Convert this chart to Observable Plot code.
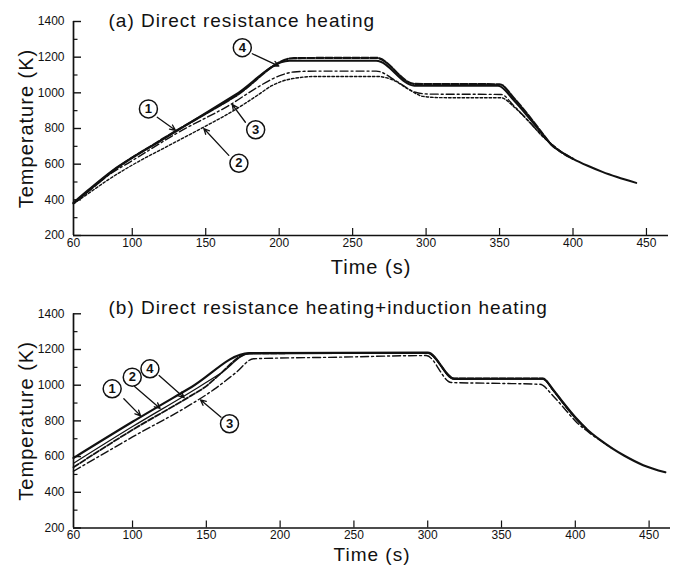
<!DOCTYPE html>
<html><head><meta charset="utf-8">
<script src="https://cdn.jsdelivr.net/npm/d3@7"></script>
<script src="https://cdn.jsdelivr.net/npm/@observablehq/plot@0.6"></script>
<style>
body{margin:0;background:#fff;}
#chart{width:674px;}
#chart svg{display:block;}
</style></head><body><div id="chart"></div>
<script>
// ---- shared axis ticks ----
const timeTicks = [60,100,150,200,250,300,350,400,450];
const tempTicks = [200,400,600,800,1000,1200,1400];
const tempMinorTicks = [300,500,700,900,1100,1300];

// ---- panel (a) Direct resistance heating : [time s, temperature K] ----
const a1 = [[60,385],[70,455],[85,555],[120,735],[170,988],[207,1180],[266,1180],[292,1040],[349,1040],[360,955],[370,860],[378,780],[385,712],[392,668],[400,630],[410,591],[420,557],[430,528],[443,495]];
const a4 = [[60,380],[70,448],[85,550],[120,738],[170,980],[210,1195],[266,1196],[292,1050],[350,1048],[360,968],[370,870],[378,785],[385,712],[392,668],[400,630]];
const a3 = [[60,380],[70,447],[85,545],[100,620],[130,772],[168,940],[185,1030],[200,1095],[210,1117],[225,1122],[266,1122],[280,1065],[292,1005],[302,993],[351,991],[360,925],[370,840],[380,752],[388,695]];
const a2 = [[60,378],[70,435],[85,520],[100,595],[125,705],[148,805],[170,905],[185,985],[195,1040],[208,1078],[226,1092],[266,1092],[278,1070],[288,1020],[298,980],[310,973],[351,972],[360,920],[370,838],[380,750],[388,695]];
const aLabels = [{n:"1",t:111,T:910},{n:"2",t:172.6,T:605},{n:"3",t:184,T:793},{n:"4",t:174.9,T:1253}];
const aArrows = [{t1:117,T1:863,t2:129.4,T2:790},{t1:165.7,T1:649,t2:148.7,T2:800},{t1:177,T1:835,t2:168,T2:935},{t1:181.7,T1:1219,t2:199.8,T2:1150}];

// ---- panel (b) Direct resistance heating + induction heating ----
const b1 = [[60,592],[100,795],[140,990],[179,1180],[300,1183],[318,1036],[378,1036],[385,975],[392,900],[400,820],[408,752],[417,692],[425,646],[433,606],[446,552],[461,512]];
const b2 = [[60,562],[100,768],[140,965],[160,1068],[179,1176],[300,1180],[318,1033],[378,1034],[385,970],[392,895],[400,815],[408,750]];
const b4 = [[60,540],[100,750],[140,943],[150,995],[157,1045],[179,1178],[300,1181],[318,1038],[378,1038],[385,972],[392,898],[400,818],[408,751]];
const b3 = [[60,518],[100,710],[140,895],[155,975],[170,1070],[182,1148],[240,1157],[299,1166],[316,1015],[350,1010],[376,1005],[385,940],[392,875],[400,800],[410,730],[417,690],[425,646]];
const bLabels = [{n:"1",t:86.2,T:980},{n:"2",t:99.8,T:1045},{n:"4",t:111.8,T:1092},{n:"3",t:165.7,T:784}];
const bArrows = [{t1:94.1,T1:924,t2:105.5,T2:828},{t1:101.4,T1:993,t2:118.7,T2:870},{t1:118,T1:1054,t2:135,T2:930},{t1:160,T1:821,t2:146,T2:918}];

const FONT = "'Liberation Sans', Arial, Helvetica, sans-serif";
const rows = pairs => pairs.map(([t,T]) => ({t,T}));

function panel({series, labels, arrows, title, xMax, plotW, height, marginTop, marginBottom, titleDy, timeDy, timeSize, tickPad}) {
  const lineMarks = series.map(s => Plot.line(rows(s.data), {x:"t", y:"T", stroke:"#111", strokeWidth:s.w, strokeDasharray:s.dash, strokeLinejoin:"round", curve:"monotone-x"}));
  return Plot.plot({
    width: 674, height, marginTop, marginBottom, marginLeft: 73, marginRight: 674 - 73 - plotW,
    style: {fontFamily: FONT, fontSize: "12px", background: "white", color: "#111", overflow: "visible"},
    x: {domain: [60, xMax]},
    y: {domain: [200, 1400]},
    marks: [
      Plot.axisY({ticks: tempTicks, tickSize: -8, fill: "none", label: null, strokeWidth: 1.4}),
      Plot.axisY({ticks: tempMinorTicks, tickSize: -4.5, fill: "none", label: null, strokeWidth: 1.2}),
      Plot.axisY({ticks: tempTicks, tickSize: 0, tickPadding: 9, label: null, tickFormat: d => String(d), fontSize: 12}),
      Plot.axisX({ticks: timeTicks.filter(d => d > 60), tickSize: -7, fill: "none", label: null, strokeWidth: 1.2}),
      Plot.axisX({ticks: timeTicks, tickSize: 0, tickPadding: tickPad, label: null, tickFormat: d => String(d), fontSize: 12}),
      Plot.ruleY([200], {strokeWidth: 1.7}),
      Plot.ruleX([60], {strokeWidth: 1.7}),
      ...lineMarks,
      Plot.arrow(arrows, {x1:"t1", y1:"T1", x2:"t2", y2:"T2", headLength: 7, headAngle: 50, strokeWidth: 1.3, stroke: "#111"}),
      Plot.dot(labels, {x:"t", y:"T", r: 9, fill: "white", stroke: "#111", strokeWidth: 1.5}),
      Plot.text(labels, {x:"t", y:"T", text:"n", fontWeight: "bold", fontSize: 13, fill: "#111"}),
      Plot.text([title], {text: d => d, frameAnchor: "top-left", dx: 35, dy: titleDy, textAnchor: "start", lineAnchor: "middle", fontSize: 19, fill: "#111"}),
      Plot.text(["Temperature (K)"], {text: d => d, frameAnchor: "left", dx: -47, rotate: -90, textAnchor: "middle", lineAnchor: "middle", fontSize: 20, fill: "#111"}),
      Plot.text(["Time (s)"], {text: d => d, frameAnchor: "bottom", dy: timeDy, textAnchor: "middle", lineAnchor: "middle", fontSize: timeSize, fill: "#111"})
    ]
  });
}

const chartA = panel({
  series: [
    {data: a2, w: 1.4, dash: "2.5,2"},
    {data: a3, w: 1.4, dash: "8,3,2,3"},
    {data: a4, w: 2.2, dash: "7,2"},
    {data: a1, w: 2}
  ],
  labels: aLabels, arrows: aArrows,
  title: "(a) Direct resistance heating",
  xMax: 465, plotW: 595, height: 280, marginTop: 21, marginBottom: 45, titleDy: -1, timeDy: 32, timeSize: 20, tickPad: 3
});
const chartB = panel({
  series: [
    {data: b3, w: 1.4, dash: "8,3,2,3"},
    {data: b4, w: 1.8, dash: "6,2"},
    {data: b2, w: 1.2},
    {data: b1, w: 2.2}
  ],
  labels: bLabels, arrows: bArrows,
  title: "(b) Direct resistance heating+induction heating",
  xMax: 464.5, plotW: 597, height: 286, marginTop: 33.3, marginBottom: 38.5, titleDy: -6, timeDy: 26.5, timeSize: 19, tickPad: 2
});
document.getElementById("chart").append(chartA, chartB);
d3.selectAll("#chart svg text").filter(function(){ return this.textContent.startsWith("(") || this.textContent.startsWith("Temp") || this.textContent.startsWith("Time"); }).attr("letter-spacing", "1px");
</script></body></html>
